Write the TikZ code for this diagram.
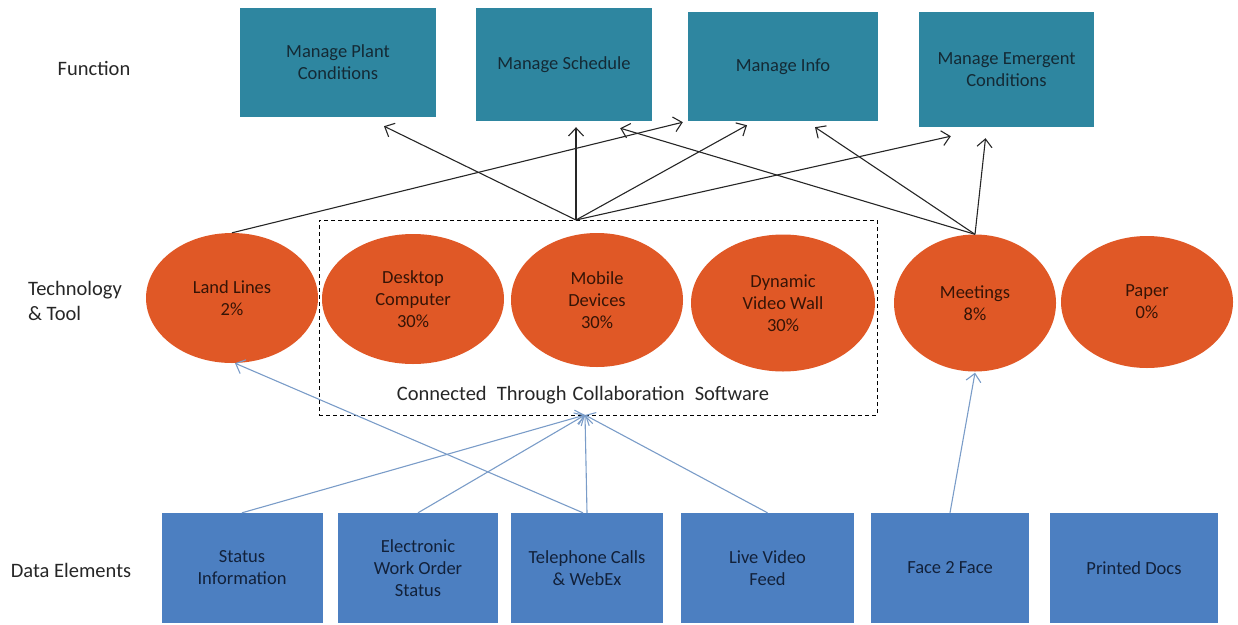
\documentclass[tikz,border=0pt]{standalone}
\usepackage{fontspec}
\setmainfont{Carlito}
\usetikzlibrary{arrows.meta,shapes.geometric,calc}
\definecolor{tealbox}{HTML}{2E86A0}
\definecolor{tealtxt}{HTML}{142A35}
\definecolor{orangeell}{HTML}{E05826}
\definecolor{orangetxt}{HTML}{361406}
\definecolor{bluebox}{HTML}{4C7FC1}
\definecolor{bluetxt}{HTML}{12213A}
\definecolor{bluearrow}{HTML}{7A9CC8}
\newcommand\myboxfont{\fontsize{18.5}{22}\selectfont}
\newcommand\mylabelfont{\fontsize{20.5}{25}\selectfont}
\begin{document}
\begin{tikzpicture}[x=1pt,y=-1pt,
  fnbox/.style={rectangle,fill=tealbox,draw=none,text=tealtxt,align=center,inner sep=2pt,font=\myboxfont},
  techell/.style={ellipse,fill=orangeell,draw=none,text=orangetxt,align=center,inner sep=0pt,font=\myboxfont},
  databox/.style={rectangle,fill=bluebox,draw=none,text=bluetxt,align=center,inner sep=2pt,font=\myboxfont,minimum height=110pt},
  rowlabel/.style={align=left,text=black!85,font=\mylabelfont,inner sep=0pt},
  blackarr/.style={draw=black!85,line width=1.1pt,-{Straight Barb[length=8pt,width=15pt]}},
  bluearr/.style={draw=bluearrow,line width=1.1pt,-{Straight Barb[length=8pt,width=15pt]}},
  collabbox/.style={rectangle,draw=black,line width=1pt,dash pattern=on 4pt off 3pt,fill=none,inner sep=0pt}
]
\useasboundingbox (0,0) rectangle (1238,624);

% row labels
\node[rowlabel] (lfunc) at (94,68) {Function};
\node[rowlabel] (ltech) at (75,301) {Technology\\\& Tool};
\node[rowlabel] (ldata) at (71,570) {Data Elements};

% function boxes
\node[fnbox,minimum width=196pt,minimum height=109pt] (plant) at (338,62.5) {Manage Plant\\Conditions};
\node[fnbox,minimum width=176pt,minimum height=113pt] (sched) at (564,64.5) {Manage Schedule};
\node[fnbox,minimum width=190pt,minimum height=109pt] (info) at (783,66.5) {Manage Info};
\node[fnbox,minimum width=175pt,minimum height=115pt] (emerg) at (1006.5,69.5) {Manage Emergent\\Conditions};

% collaboration box
\node[collabbox,minimum width=558pt,minimum height=195pt] (collab) at (598,317.5) {};
\node[font=\mylabelfont,text=black!85,inner sep=0pt] (collabtxt) at (583,395) {Connected\hspace{0.5em}Through\hspace{0.3em}Collaboration\hspace{0.5em}Software};
\coordinate (hubtop) at (576,220);
\coordinate (hubbot) at (585,415);

% technology ellipses
\node[techell,minimum width=172pt,minimum height=130pt] (land) at (232,298) {Land Lines\\2\%};
\node[techell,minimum width=182pt,minimum height=130pt] (desk) at (413,299) {Desktop\\Computer\\30\%};
\node[techell,minimum width=172pt,minimum height=134pt] (mob) at (597,300) {Mobile\\Devices\\30\%};
\node[techell,minimum width=184pt,minimum height=137pt] (dyn) at (783,303) {Dynamic\\Video Wall\\30\%};
\node[techell,minimum width=162pt,minimum height=137pt] (meet) at (975,303) {Meetings\\8\%};
\node[techell,minimum width=172pt,minimum height=132pt] (paper) at (1147,302) {Paper\\0\%};

% data boxes
\node[databox,minimum width=161pt] (status) at (242,568) {Status\\Information};
\node[databox,minimum width=160pt] (elec) at (418,568) {Electronic\\Work Order\\Status};
\node[databox,minimum width=152pt] (tel) at (587,568) {Telephone Calls\\\& WebEx};
\node[databox,minimum width=173pt] (live) at (767.5,568) {Live Video\\Feed};
\node[databox,minimum width=158pt] (face) at (950,568) {Face 2 Face};
\node[databox,minimum width=168pt] (printed) at (1134,568) {Printed Docs};

% black arrows to functions
\draw[blackarr] (land.north) -- ($(info.south west)+(-5,1)$);
\draw[blackarr] (hubtop) -- ($(plant.south)+(46,9)$);
\draw[blackarr] (hubtop) -- ($(sched.south)+(12,6)$);
\draw[blackarr] (hubtop) -- ($(info.south)+(-36,4)$);
\draw[blackarr] (hubtop) -- ($(emerg.south west)+(32,9)$);
\draw[blackarr] (meet.north) -- ($(sched.south east)+(-32,7)$);
\draw[blackarr] (meet.north) -- ($(info.south)+(32,6)$);
\draw[blackarr] (meet.north) -- ($(emerg.south)+(-21,11)$);

% blue arrows from data elements
\draw[bluearr] ($(tel.north)+(-4,0)$) -- ($(land.south)+(3,0)$);
\draw[bluearr] (status.north) -- (hubbot);
\draw[bluearr] (elec.north) -- (hubbot);
\draw[bluearr] (tel.north) -- (hubbot);
\draw[bluearr] (live.north) -- (hubbot);
\draw[bluearr] (face.north) -- ($(meet.south)+(0,1)$);
\end{tikzpicture}
\end{document}
